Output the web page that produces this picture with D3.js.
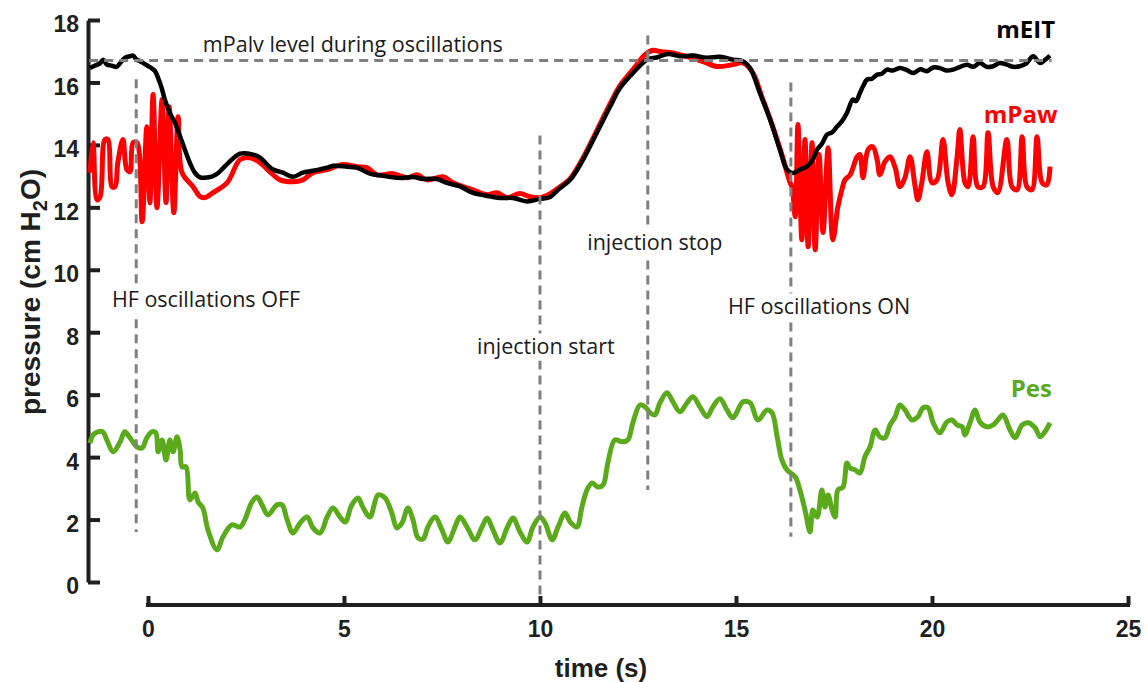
<!DOCTYPE html>
<html>
<head>
<meta charset="utf-8">
<script src="https://cdn.jsdelivr.net/npm/d3@7"></script>
<style>
  body { margin: 0; background: #fff; }
  svg { display: block; }
</style>
</head>
<body>
<svg width="1146" height="682"></svg>
<script>
// time (s), pressure (cm H2O)
const pawData = [
  [-1.48, 13.11], [-1.40, 14.07], [-1.30, 12.24], [-1.22, 12.34], [-1.10, 14.17], [-1.02, 14.17],
  [-0.92, 12.66], [-0.84, 12.66], [-0.77, 13.43], [-0.64, 14.17], [-0.54, 13.21], [-0.46, 13.14],
  [-0.38, 14.07], [-0.28, 14.07], [-0.15, 11.54], [-0.03, 14.58], [0.05, 12.15], [0.13, 15.61],
  [0.23, 11.99], [0.36, 15.45], [0.46, 12.15], [0.54, 15.22], [0.66, 11.83], [0.77, 14.90],
  [0.87, 13.11], [1.15, 12.66], [1.33, 12.34], [1.45, 12.31], [1.66, 12.47], [2.02, 12.79],
  [2.35, 13.53], [2.60, 13.59], [2.86, 13.43], [3.11, 13.14], [3.37, 12.88], [3.70, 12.82],
  [3.95, 12.88], [4.21, 13.11], [4.57, 13.21], [4.97, 13.37], [5.33, 13.30], [5.59, 13.27],
  [5.84, 13.04], [6.25, 13.08], [6.61, 12.95], [6.86, 13.04], [7.12, 12.88], [7.53, 12.98],
  [7.78, 12.79], [8.04, 12.66], [8.29, 12.56], [8.65, 12.40], [8.90, 12.47], [9.16, 12.31],
  [9.49, 12.44], [9.74, 12.34], [10.00, 12.31], [10.26, 12.44], [10.51, 12.66], [10.77, 12.92],
  [11.10, 13.59], [11.45, 14.46], [11.79, 15.32], [12.04, 15.90], [12.37, 16.41], [12.68, 16.89],
  [12.88, 17.03], [13.06, 16.99], [13.32, 16.96], [13.75, 16.83], [14.16, 16.67], [14.52, 16.51],
  [14.92, 16.57], [15.18, 16.63], [15.43, 16.31], [15.66, 15.54], [15.92, 14.65], [16.17, 13.69],
  [16.38, 12.79], [16.43, 12.66], [16.51, 11.70], [16.58, 14.65], [16.68, 10.96], [16.76, 14.17],
  [16.84, 10.74], [16.94, 14.07], [17.02, 10.64], [17.12, 13.69], [17.22, 11.19], [17.35, 13.91],
  [17.47, 10.96], [17.60, 12.02], [17.70, 12.56], [17.78, 12.88], [17.91, 13.04], [18.09, 13.62],
  [18.16, 13.69], [18.24, 12.95], [18.37, 13.85], [18.49, 13.94], [18.60, 13.53], [18.67, 13.04],
  [18.80, 13.46], [18.93, 13.62], [19.06, 13.27], [19.18, 12.66], [19.31, 12.95], [19.44, 13.62],
  [19.57, 12.66], [19.64, 12.24], [19.74, 12.79], [19.87, 13.78], [20.00, 12.79], [20.13, 12.88],
  [20.28, 14.17], [20.41, 12.79], [20.51, 12.40], [20.64, 13.62], [20.71, 14.49], [20.84, 12.79],
  [20.92, 12.66], [21.05, 14.26], [21.17, 12.66], [21.30, 12.66], [21.43, 14.39], [21.56, 12.66],
  [21.68, 12.47], [21.91, 14.17], [22.04, 12.66], [22.17, 12.56], [22.30, 14.26], [22.42, 12.66],
  [22.55, 12.56], [22.68, 14.26], [22.81, 12.79], [22.93, 12.72], [23.01, 13.30]
];

const eitData = [
  [-1.48, 16.46], [-1.35, 16.54], [-1.22, 16.62], [-1.14, 16.73], [-1.05, 16.57], [-0.93, 16.54],
  [-0.80, 16.50], [-0.71, 16.62], [-0.59, 16.79], [-0.46, 16.84], [-0.38, 16.86], [-0.29, 16.73],
  [-0.20, 16.68], [-0.12, 16.62], [0.01, 16.52], [0.09, 16.46], [0.18, 16.36], [0.26, 16.14],
  [0.35, 15.82], [0.43, 15.45], [0.56, 15.02], [0.69, 14.70], [0.82, 14.27], [0.94, 13.85],
  [1.07, 13.42], [1.20, 13.10], [1.33, 12.96], [1.45, 12.95], [1.63, 12.98], [1.79, 13.10],
  [1.96, 13.31], [2.14, 13.53], [2.35, 13.72], [2.68, 13.69], [2.86, 13.59], [3.04, 13.37],
  [3.19, 13.21], [3.44, 13.11], [3.70, 12.98], [3.95, 13.11], [4.21, 13.17], [4.57, 13.27],
  [4.72, 13.33], [5.08, 13.30], [5.33, 13.27], [5.66, 13.08], [5.99, 13.01], [6.43, 12.94],
  [6.76, 12.97], [7.02, 12.91], [7.37, 12.91], [7.63, 12.78], [7.96, 12.67], [8.29, 12.46],
  [8.55, 12.39], [8.98, 12.30], [9.31, 12.30], [9.67, 12.19], [10.00, 12.27], [10.26, 12.33],
  [10.46, 12.56], [10.77, 12.88], [11.10, 13.53], [11.45, 14.39], [11.79, 15.23], [12.04, 15.82],
  [12.37, 16.30], [12.73, 16.73], [12.98, 16.80], [13.27, 16.91], [13.57, 16.84], [13.90, 16.86],
  [14.26, 16.79], [14.59, 16.82], [14.92, 16.73], [15.18, 16.68], [15.36, 16.46], [15.61, 15.66],
  [15.87, 14.81], [16.12, 13.85], [16.30, 13.21], [16.45, 13.10], [16.63, 13.21], [16.81, 13.31],
  [16.96, 13.53], [17.07, 13.85], [17.20, 14.05], [17.32, 14.33], [17.45, 14.40], [17.58, 14.59],
  [17.70, 14.75], [17.83, 15.02], [17.98, 15.45], [18.06, 15.40], [18.16, 15.66], [18.25, 15.90],
  [18.34, 16.09], [18.47, 16.12], [18.60, 16.25], [18.72, 16.28], [18.85, 16.41], [19.00, 16.38],
  [19.18, 16.46], [19.35, 16.40], [19.52, 16.30], [19.70, 16.42], [19.87, 16.36], [20.03, 16.48],
  [20.20, 16.46], [20.37, 16.38], [20.54, 16.41], [20.72, 16.50], [20.89, 16.57], [21.05, 16.50],
  [21.22, 16.62], [21.40, 16.50], [21.56, 16.52], [21.73, 16.62], [21.91, 16.57], [22.07, 16.50],
  [22.24, 16.52], [22.40, 16.60], [22.58, 16.84], [22.76, 16.62], [22.88, 16.72], [23.01, 16.86]
];

const pesData = [
  [-1.48, 4.45], [-1.40, 4.71], [-1.28, 4.81], [-1.15, 4.81], [-1.05, 4.55], [-0.89, 4.17],
  [-0.71, 4.49], [-0.59, 4.81], [-0.46, 4.62], [-0.28, 4.33], [-0.15, 4.29], [-0.03, 4.62],
  [0.10, 4.81], [0.20, 4.78], [0.26, 4.17], [0.36, 4.55], [0.46, 3.91], [0.56, 4.55],
  [0.64, 4.17], [0.74, 4.65], [0.82, 4.23], [0.87, 3.69], [0.97, 3.69], [1.07, 2.63],
  [1.20, 2.85], [1.28, 2.56], [1.40, 2.37], [1.53, 1.67], [1.76, 1.03], [1.91, 1.44],
  [2.14, 1.83], [2.35, 1.76], [2.47, 1.99], [2.65, 2.56], [2.78, 2.72], [2.91, 2.47],
  [3.06, 2.15], [3.29, 2.47], [3.42, 2.47], [3.55, 1.99], [3.70, 1.57], [3.88, 1.89],
  [4.06, 2.08], [4.21, 1.73], [4.39, 1.57], [4.57, 2.08], [4.72, 2.37], [4.90, 2.08],
  [5.03, 1.92], [5.20, 2.47], [5.36, 2.69], [5.48, 2.40], [5.66, 2.08], [5.87, 2.79],
  [6.05, 2.69], [6.22, 2.21], [6.35, 1.73], [6.48, 1.89], [6.63, 2.37], [6.76, 1.99],
  [6.89, 1.41], [7.02, 1.38], [7.14, 1.76], [7.32, 2.08], [7.50, 1.67], [7.65, 1.28],
  [7.83, 1.76], [7.96, 2.08], [8.14, 1.76], [8.34, 1.35], [8.52, 1.76], [8.65, 2.05],
  [8.80, 1.67], [8.98, 1.25], [9.16, 1.73], [9.31, 2.05], [9.49, 1.60], [9.67, 1.28],
  [9.82, 1.76], [10.00, 2.08], [10.13, 1.89], [10.31, 1.35], [10.46, 1.76], [10.64, 2.21],
  [10.77, 1.92], [10.94, 1.76], [11.07, 2.40], [11.20, 2.95], [11.33, 3.17], [11.48, 3.04],
  [11.61, 3.11], [11.73, 3.81], [11.91, 4.55], [12.09, 4.49], [12.24, 4.55], [12.37, 5.10],
  [12.55, 5.67], [12.68, 5.61], [12.81, 5.42], [12.93, 5.35], [13.06, 5.74], [13.24, 6.06],
  [13.39, 5.77], [13.57, 5.45], [13.75, 5.74], [13.90, 5.93], [14.08, 5.61], [14.26, 5.29],
  [14.41, 5.61], [14.59, 5.87], [14.77, 5.51], [14.92, 5.26], [15.18, 5.77], [15.36, 5.74],
  [15.56, 5.19], [15.79, 5.51], [15.92, 5.42], [16.05, 4.65], [16.17, 3.91], [16.30, 3.59],
  [16.51, 3.37], [16.63, 2.95], [16.76, 2.31], [16.89, 1.60], [16.96, 2.31], [17.07, 2.08],
  [17.19, 2.95], [17.27, 2.40], [17.35, 2.79], [17.45, 2.31], [17.53, 2.08], [17.60, 2.95],
  [17.73, 3.04], [17.83, 3.81], [17.91, 3.65], [18.04, 3.59], [18.16, 3.49], [18.29, 4.01],
  [18.42, 4.33], [18.55, 4.87], [18.67, 4.65], [18.80, 4.62], [18.93, 5.03], [19.06, 5.29],
  [19.18, 5.67], [19.31, 5.51], [19.49, 5.19], [19.64, 5.29], [19.77, 5.58], [19.90, 5.58],
  [20.03, 5.10], [20.20, 4.78], [20.38, 5.13], [20.51, 5.19], [20.64, 5.03], [20.77, 4.97],
  [20.84, 4.71], [20.97, 5.10], [21.10, 5.51], [21.22, 5.13], [21.40, 4.97], [21.56, 5.03],
  [21.68, 5.19], [21.81, 5.35], [21.99, 4.87], [22.12, 4.62], [22.30, 5.03], [22.45, 5.10],
  [22.63, 4.94], [22.76, 4.65], [22.88, 4.81], [23.01, 5.10]
];

const xTicks = [0, 5, 10, 15, 20, 25];
const yTicks = [0, 2, 4, 6, 8, 10, 12, 14, 16, 18];

const mPalvLevel = 16.7;
// event markers: time, top / bottom of dashed line, label and where it sits
const events = [
  {t: -0.3, top: 16.1, bottom: 1.6, label: "HF oscillations OFF", lx: -0.92, ly: 9.04, anchor: "start"},
  {t: 10.0, top: 14.3, bottom: -0.5, label: "injection start", lx: 10.15, ly: 7.53, anchor: "middle"},
  {t: 12.75, top: 17.5, bottom: 2.95, label: "injection stop", lx: 12.93, ly: 10.87, anchor: "middle"},
  {t: 16.4, top: 16.0, bottom: 1.45, label: "HF oscillations ON", lx: 17.12, ly: 8.81, anchor: "middle"}
];

const seriesLabels = [
  {name: "mEIT", color: "#000000", t: 23.14, v: 17.7},
  {name: "mPaw", color: "#ff0000", t: 23.2, v: 14.97},
  {name: "Pes", color: "#5aaa1c", t: 23.06, v: 6.2}
];

const svg = d3.select("svg");

const scX = d3.scaleLinear().domain([-1.53, 25]).range([88, 1128]);
const scY = d3.scaleLinear().domain([0, 18]).range([582, 20]);

const axisColor = "#1f1f1f";
const boldFont = "'Liberation Sans', Arial, sans-serif";

// y axis
const gy = svg.append("g")
  .attr("transform", `translate(${scX(-1.53)},0)`)
  .call(d3.axisLeft(scY).tickValues(yTicks).tickSizeInner(-12).tickSizeOuter(0).tickPadding(9));
gy.select(".domain").attr("stroke", axisColor).attr("stroke-width", 4);
gy.selectAll(".tick line").attr("stroke", axisColor).attr("stroke-width", 4);
gy.selectAll(".tick text")
  .attr("fill", axisColor)
  .attr("dy", "0.52em")
  .style("font-family", boldFont)
  .style("font-weight", "bold")
  .style("font-size", "23px");

// x axis
const xAxisY = 605;
const gx = svg.append("g")
  .attr("transform", `translate(0,${xAxisY})`)
  .call(d3.axisBottom(scX).tickValues(xTicks).tickSizeInner(-9).tickSizeOuter(0).tickPadding(16));
gx.select(".domain").remove();
gx.append("line")
  .attr("x1", scX(0) - 2).attr("x2", scX(25) + 2)
  .attr("stroke", axisColor).attr("stroke-width", 4);
gx.selectAll(".tick line").attr("stroke", axisColor).attr("stroke-width", 4);
gx.selectAll(".tick text")
  .attr("fill", axisColor)
  .style("font-family", boldFont)
  .style("font-weight", "bold")
  .style("font-size", "23px");

svg.append("text")
  .attr("x", 601)
  .attr("y", 677)
  .attr("text-anchor", "middle")
  .attr("fill", axisColor)
  .style("font-family", boldFont)
  .style("font-weight", "bold")
  .style("font-size", "26px")
  .text("time (s)");

const yLabel = svg.append("text")
  .attr("transform", `translate(40,292) rotate(-90)`)
  .attr("text-anchor", "middle")
  .attr("fill", axisColor)
  .style("font-family", boldFont)
  .style("font-weight", "bold")
  .style("font-size", "28px");
yLabel.append("tspan").text("pressure (cm H");
yLabel.append("tspan").attr("dy", 7).style("font-size", "20px").text("2");
yLabel.append("tspan").attr("dy", -7).text("O)");

// curves
const line = d3.line()
  .x(d => scX(d[0]))
  .y(d => scY(d[1]))
  .curve(d3.curveCatmullRom.alpha(0.5));

svg.append("path").datum(pesData)
  .attr("d", line).attr("fill", "none")
  .attr("stroke", "#5aaa1c").attr("stroke-width", 5)
  .attr("stroke-linejoin", "round");

svg.append("path").datum(pawData)
  .attr("d", line).attr("fill", "none")
  .attr("stroke", "#ff0000").attr("stroke-width", 5)
  .attr("stroke-linejoin", "round");

svg.append("path").datum(eitData)
  .attr("d", line).attr("fill", "none")
  .attr("stroke", "#000000").attr("stroke-width", 4.5)
  .attr("stroke-linejoin", "round");

// dashed reference lines
const dashColor = "#808080";
svg.append("line")
  .attr("x1", scX(-1.5)).attr("x2", scX(23.05))
  .attr("y1", scY(mPalvLevel)).attr("y2", scY(mPalvLevel))
  .attr("stroke", dashColor).attr("stroke-width", 3)
  .attr("stroke-dasharray", "9,6");

svg.append("text")
  .attr("x", scX(1.4))
  .attr("y", scY(mPalvLevel) - 9)
  .attr("fill", "#1a1a1a")
  .style("font-family", "'Open Sans', sans-serif")
  .style("font-size", "21.5px")
  .text("mPalv level during oscillations");

svg.selectAll(".event")
  .data(events)
  .enter()
  .append("line")
  .attr("x1", d => scX(d.t)).attr("x2", d => scX(d.t))
  .attr("y1", d => scY(d.top)).attr("y2", d => scY(d.bottom))
  .attr("stroke", dashColor).attr("stroke-width", 3)
  .attr("stroke-dasharray", "9,6");

const evLabels = svg.selectAll(".evlabel")
  .data(events)
  .enter()
  .append("text")
  .attr("x", d => scX(d.lx))
  .attr("y", d => scY(d.ly))
  .attr("dy", "0.35em")
  .attr("text-anchor", d => d.anchor)
  .attr("fill", "#1a1a1a")
  .style("font-family", "'Open Sans', sans-serif")
  .style("font-size", "21.5px")
  .text(d => d.label);

// white boxes behind the event labels so the dashed lines break
evLabels.each(function () {
  const b = this.getBBox();
  svg.insert("rect", () => this)
    .attr("x", b.x - 2).attr("y", b.y + 2)
    .attr("width", b.width + 4).attr("height", b.height - 2)
    .attr("fill", "#fff");
});

svg.selectAll(".slabel")
  .data(seriesLabels)
  .enter()
  .append("text")
  .attr("x", d => scX(d.t))
  .attr("y", d => scY(d.v))
  .attr("dy", "0.35em")
  .attr("text-anchor", "end")
  .attr("fill", d => d.color)
  .style("font-family", "'Open Sans', sans-serif")
  .style("font-weight", "bold")
  .style("font-size", "24px")
  .text(d => d.name);
</script>
</body>
</html>
